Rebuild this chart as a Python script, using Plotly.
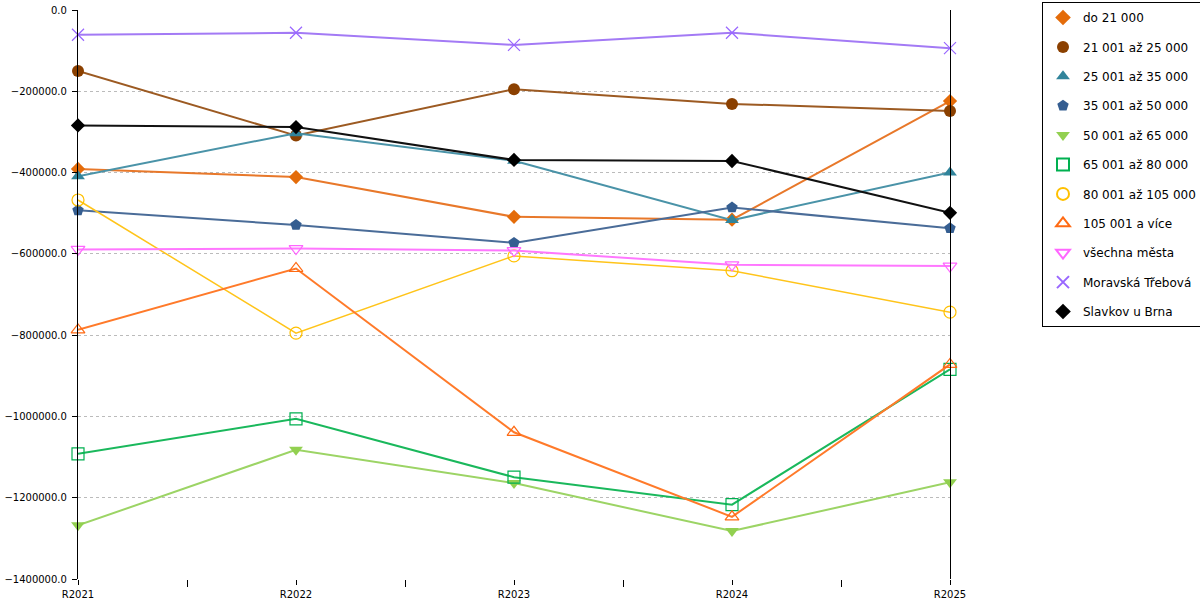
import plotly.graph_objects as go

years = ["R2021", "R2022", "R2023", "R2024", "R2025"]

names = ["do 21 000", "21 001 až 25 000", "25 001 až 35 000", "35 001 až 50 000",
         "50 001 až 65 000", "65 001 až 80 000", "80 001 až 105 000", "105 001 a více",
         "všechna města", "Moravská Třebová", "Slavkov u Brna"]

do_21000 = [-391000, -411000, -509000, -516000, -224000]
s21_25 = [-150000, -309000, -195000, -231000, -248500]
s25_35 = [-409000, -303000, -371000, -517000, -400000]
s35_50 = [-493000, -529000, -573000, -486000, -537000]
s50_65 = [-1268000, -1082000, -1164000, -1282000, -1162000]
s65_80 = [-1092000, -1006000, -1149500, -1217000, -884000]
s80_105 = [-467500, -795000, -605000, -641500, -743500]
s105 = [-787000, -636000, -1039000, -1247000, -872000]
vsechna = [-589000, -587000, -592000, -627000, -630000]
moravska = [-61000, -56000, -86000, -56000, -94000]
slavkov = [-284000, -288000, -369000, -371500, -499000]

values = [do_21000, s21_25, s25_35, s35_50, s50_65, s65_80, s80_105, s105,
          vsechna, moravska, slavkov]

y_ticks = [0, -200000, -400000, -600000, -800000, -1000000, -1200000, -1400000]

styles = [
    dict(color="#E46C0A", line="#E8782A", symbol="diamond", size=11, lw=2),
    dict(color="#8B4000", line="#9C5A22", symbol="circle", size=12, lw=2),
    dict(color="#31849B", line="#4A93A8", symbol="triangle-up", size=12, lw=2),
    dict(color="#355E91", line="#4A6C98", symbol="pentagon", size=12, lw=2),
    dict(color="#92D050", line="#9CD465", symbol="triangle-down", size=12, lw=2),
    dict(color="#00B050", line="#1AB85C", symbol="square-open", size=12, lw=2),
    dict(color="#FFC000", line="#FFC41A", symbol="circle-open", size=12, lw=1.5),
    dict(color="#FF6A13", line="#FF7A2A", symbol="triangle-up-open", size=12, lw=2),
    dict(color="#FF66FF", line="#FF77FF", symbol="triangle-down-open", size=12, lw=2),
    dict(color="#9966FF", line="#A37AF5", symbol="x-thin-open", size=12, lw=2),
    dict(color="#000000", line="#111111", symbol="diamond", size=11, lw=2),
]

fig = go.Figure()
for i, (name, vals, st) in enumerate(zip(names, values, styles)):
    fig.add_trace(go.Scatter(
        x=years, y=vals, mode="lines", name=name, showlegend=False,
        legendgroup=f"g{i}", line=dict(color=st["line"], width=st["lw"]),
        hoverinfo="skip"))
    open_sym = st["symbol"].endswith("-open")
    fig.add_trace(go.Scatter(
        x=years, y=vals, mode="markers", name=name, showlegend=True,
        legendgroup=f"g{i}", cliponaxis=False,
        marker=dict(symbol=st["symbol"], size=st["size"], color=st["color"],
                    line=dict(color=st["color"], width=1.2 if open_sym else 0))))

# secondary x axis for ticks at categories
fig.add_trace(go.Scatter(x=years, y=[None] * len(years), xaxis="x2",
                         showlegend=False, hoverinfo="skip"))

fig.update_layout(
    width=1200, height=600,
    margin=dict(l=78, r=250, t=10, b=21, autoexpand=False),
    paper_bgcolor="white", plot_bgcolor="white",
    font=dict(family="DejaVu Sans", size=10, color="#000000"),
    xaxis=dict(type="category", range=[0, 4], showgrid=False, zeroline=False,
               showline=False, ticks="outside", tickson="boundaries",
               ticklen=7, tickcolor="#000000", tickwidth=1, automargin=False,
               ticklabelstandoff=8, tickfont=dict(size=10)),
    xaxis2=dict(type="category", overlaying="x", matches="x", side="bottom",
                range=[0, 4], showgrid=False, zeroline=False, showline=False,
                ticks="outside", ticklen=5, tickcolor="#000000", automargin=False,
                showticklabels=False),
    yaxis=dict(range=[-1400000, 0], tickvals=y_ticks, tickformat=".1f",
               showgrid=True, gridcolor="#BBBBBB", griddash="3px,3px", gridwidth=1,
               zeroline=False, showline=True, linecolor="#000000", linewidth=1.2,
               mirror=True, ticks="outside", ticklen=5, tickcolor="#000000",
               automargin=False, ticklabelstandoff=3, tickfont=dict(size=10)),
    legend=dict(x=(1042 - 78) / 872, y=1 + 8 / 569, xanchor="left", yanchor="top",
                bordercolor="#000000", borderwidth=1, bgcolor="white",
                font=dict(family="DejaVu Sans", size=12, color="#000000"),
                tracegroupgap=10.4, traceorder="grouped", itemsizing="constant",
                maxheight=400),
)

fig.write_html("out.html", config={"displayModeBar": False},
               post_script="document.body.style.margin='0px';")
